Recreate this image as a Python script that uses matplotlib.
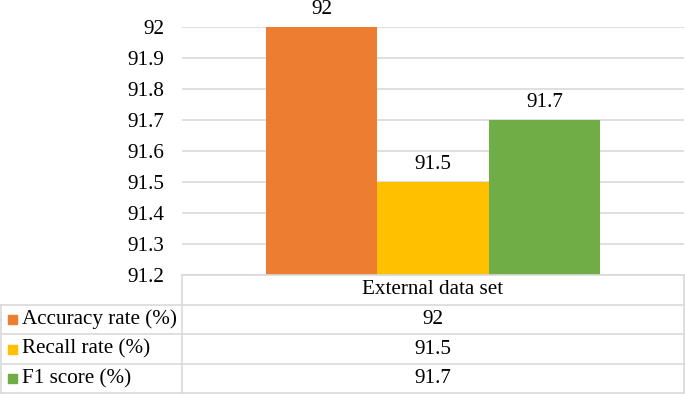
import matplotlib.pyplot as plt
from matplotlib.lines import Line2D
from matplotlib.patches import Rectangle

category = "External data set"
series = ["Accuracy rate (%)", "Recall rate (%)", "F1 score (%)"]
values = [92, 91.5, 91.7]
value_labels = ["92", "91.5", "91.7"]
yticks = [91.2, 91.3, 91.4, 91.5, 91.6, 91.7, 91.8, 91.9, 92]
ytick_labels = ["91.2", "91.3", "91.4", "91.5", "91.6", "91.7", "91.8", "91.9", "92"]
colors = ["#ED7D31", "#FFC000", "#70AD47"]

plt.rcParams['font.family'] = ['Liberation Serif', 'DejaVu Serif']
FS = 15.2
GRID = "#D9D9D9"
W, H = 685, 394

fig = plt.figure(figsize=(6.85, 3.94), dpi=100)

# plot area in pixel terms
left, right, top, bottom = 182, 684, 27, 275
ax = fig.add_axes([left / W, 1 - bottom / H, (right - left) / W, (bottom - top) / H])

bw = 0.222
for i, (v, c, lab) in enumerate(zip(values, colors, value_labels)):
    x = (i - 1) * bw
    ax.bar(x, v - yticks[0], bottom=yticks[0], width=bw, color=c, zorder=3)
    ax.annotate(lab, (x, v), xytext=(0, 6), textcoords="offset points",
                ha="center", va="bottom", fontsize=FS)

ax.set_xlim(-0.5, 0.5)
ax.set_ylim(yticks[0], yticks[-1])
ax.set_yticks(yticks)
ax.set_yticklabels(ytick_labels, fontsize=FS)
ax.set_xticks([])
ax.tick_params(axis="y", length=0, pad=13)
ax.grid(axis="y", color=GRID, linewidth=1.2, zorder=0)
for s in ax.spines.values():
    s.set_visible(False)


def px(x, y):
    return x / W, 1 - y / H


def hline(x0, x1, y):
    a, b = px(x0, y)
    c, _ = px(x1, y)
    fig.add_artist(Line2D([a, c], [b, b], color=GRID, lw=1.2, transform=fig.transFigure))


def vline(x, y0, y1):
    a, b = px(x, y0)
    _, d = px(x, y1)
    fig.add_artist(Line2D([a, a], [b, d], color=GRID, lw=1.2, transform=fig.transFigure))


# data table
rows = [275, 304.5, 334, 364, 393]
hline(left, right, rows[0])
for y in rows[1:]:
    hline(1, right, y)
vline(left, rows[0], rows[-1])
vline(right, rows[0], rows[-1])
vline(1, rows[1], rows[-1])

cx = (left + right) / 2
fig.text(*px(cx, (rows[0] + rows[1]) / 2), category, ha="center", va="center", fontsize=FS)
for i, (name, lab, c) in enumerate(zip(series, value_labels, colors)):
    yc = (rows[i + 1] + rows[i + 2]) / 2
    sx, sy = px(8, yc + 4.5)
    fig.add_artist(Rectangle((sx, sy), 9 / W, 9 / H, color=c, transform=fig.transFigure))
    fig.text(*px(22, yc), name, ha="left", va="center", fontsize=FS)
    fig.text(*px(cx, yc), lab, ha="center", va="center", fontsize=FS)

fig.savefig("out.png", dpi=100)
